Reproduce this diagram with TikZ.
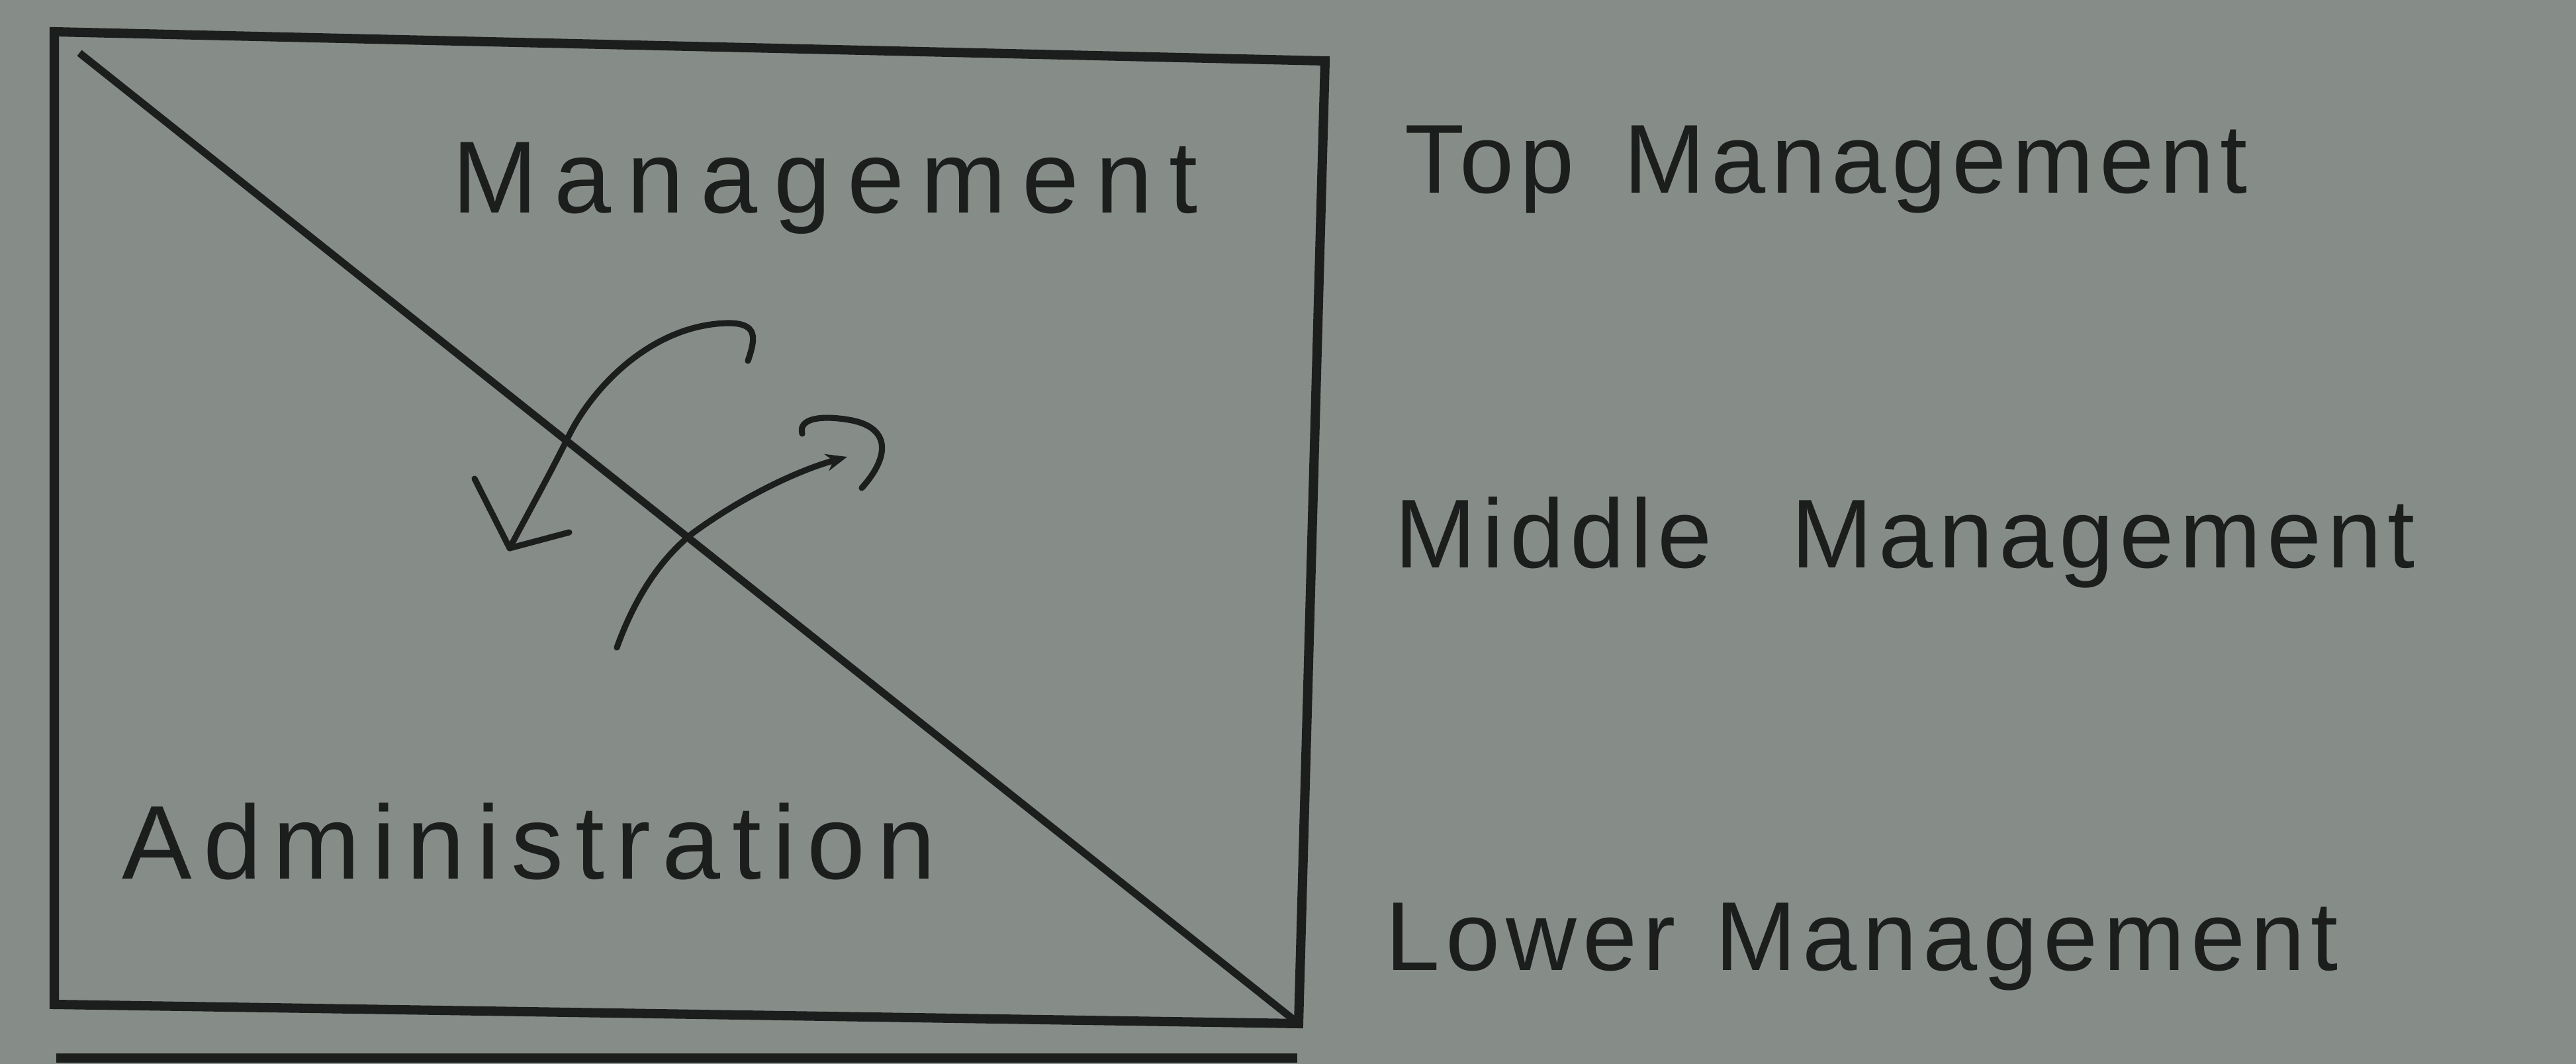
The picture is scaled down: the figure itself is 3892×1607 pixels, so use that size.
\documentclass[tikz,border=0pt]{standalone}
\usepackage{fontspec}
\setmainfont{Liberation Sans}
\usepackage{xcolor}
\usetikzlibrary{arrows.meta, positioning, calc}

\definecolor{paper}{RGB}{134,141,136}
\definecolor{ink}{RGB}{28,30,29}

\begin{document}
\begin{tikzpicture}[
  x=0.01cm, y=-0.01cm,
  frame/.style={draw=ink, line width=4pt, line join=miter},
  split/.style={draw=ink, line width=3.2pt},
  curly/.style={draw=ink, line width=2.6pt, line cap=round, line join=round},
  boxlabel/.style={anchor=base west, inner sep=0pt, text=ink, font=\fontsize{44}{50}\selectfont\addfontfeature{LetterSpace=16}},
  levellabel/.style={anchor=base west, inner sep=0pt, text=ink, font=\fontsize{42}{48}\selectfont\addfontfeature{LetterSpace=6}}
]
% page
\fill[paper] (0,0) rectangle (3892,1607);
\useasboundingbox (0,0) rectangle (3892,1607);

% box corners (photo is slightly skewed)
\coordinate (tl) at (82,48);
\coordinate (tr) at (2002,92);
\coordinate (br) at (1962,1546);
\coordinate (bl) at (82,1517);
\draw[frame] (tl) -- (tr) -- (br) -- (bl) -- cycle;
\draw[split] (120,80) -- (br);

% edge of the next box
\draw[frame] (85,1598) -- (1960,1598);

% texts
\node[boxlabel] (mgmt) at (683,322) {Management};
\node[boxlabel, font=\fontsize{45}{50}\selectfont\addfontfeature{LetterSpace=11}] (admin) at (184,1328) {Administration};

\node[levellabel] (top) at (2122,292) {Top\hspace{7.5mm}Management};
\node[levellabel] (middle) at (2107,858) {Middle\hspace{12mm}Management};
\node[levellabel] (lower) at (2093,1466) {Lower\hspace{6mm}Management};

% curly arrow, management to administration
\coordinate (a1tail) at (1130,545);
\coordinate (a1cross) at (860,657);
\coordinate (a1tip) at (770,828);
\draw[curly] (a1tail) .. controls (1142,510) and (1145,488) .. (1100,488)
  .. controls (990,490) and (900,578) .. (a1cross)
  .. controls (830,718) and (795,780) .. (a1tip);
\draw[curly] (717,723) -- (a1tip) -- (860,804);

% curly arrow, administration to management
\coordinate (a2tail) at (932,978);
\coordinate (a2cross) at (1047,805);
\coordinate (a2tip) at (1280,690);
\draw[curly, -{Stealth[length=0.32cm, width=0.26cm]}] (a2tail) .. controls (960,900) and (1000,842) .. (a2cross)
  .. controls (1115,755) and (1200,712) .. (a2tip);
\draw[curly] (1212,655) .. controls (1206,632) and (1240,627) .. (1282,634)
  .. controls (1344,644) and (1347,687) .. (1302,737);
\end{tikzpicture}
\end{document}
